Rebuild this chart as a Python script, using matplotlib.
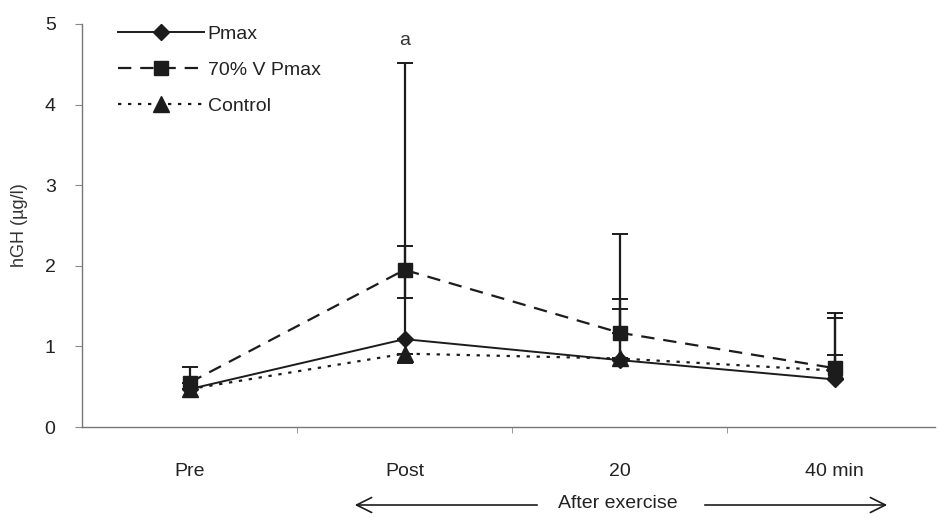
import matplotlib
matplotlib.use("Agg")
import matplotlib.pyplot as plt
from matplotlib.lines import Line2D
from matplotlib.patches import FancyArrowPatch
import numpy as np

plt.rcParams['font.family'] = ['Liberation Sans', 'DejaVu Sans']

# data
times = ["Pre", "Post", "20", "40 min"]
pmax = [0.47, 1.09, 0.83, 0.59]
pmax_up = [0.0, 3.43, 0.76, 0.30]
pmax_lo = [0.0, 0.0, 0.0, 0.0]
vpmax = [0.55, 1.95, 1.17, 0.73]
vpmax_up = [0.20, 0.30, 1.22, 0.69]
vpmax_lo = [0.0, 0.35, 0.0, 0.0]
control = [0.47, 0.91, 0.85, 0.70]
control_up = [0.0, 0.0, 0.61, 0.65]
control_lo = [0.0, 0.11, 0.0, 0.0]

ink = '#1c1c1c'
x = np.arange(len(times))

fig = plt.figure(figsize=(9.39, 5.18), dpi=100)
ax = fig.add_axes([82/939, 1-427/518, (935-82)/939, (427-24)/518])

styles = [
    (pmax, pmax_lo, pmax_up, 'Pmax', '-', 1.4, 'D', 8),
    (vpmax, vpmax_lo, vpmax_up, '70% V Pmax', (0, (6, 4)), 1.6, 's', 10),
    (control, control_lo, control_up, 'Control', (0, (1.5, 3)), 1.6, '^', 11),
]
handles = []
for vals, lo, up, name, ls, lw, mk, ms in styles:
    ax.errorbar(x, vals, yerr=[lo, up], color=ink, lw=lw, ls=ls, marker=mk,
                ms=ms, mfc=ink, mec=ink, ecolor=ink, elinewidth=1.6,
                capsize=6, capthick=1.4)
    handles.append(Line2D([], [], color=ink, lw=lw, ls=ls, marker=mk, ms=ms,
                          mfc=ink, mec=ink, label=name))

ax.text(1, 4.8, 'a', ha='center', va='center', fontsize=14, color='#333333')

ax.set_xlim(-0.5, 3.467)
ax.set_ylim(0, 5)
ax.set_yticks(range(6))
ax.set_xticks(x)
ax.set_xticklabels(times)
ax.set_xticks([0.5, 1.5, 2.5], minor=True)
ax.tick_params(axis='x', which='major', length=0, pad=26, labelsize=14,
               labelcolor='#222222')
ax.tick_params(axis='x', which='minor', length=4, color='#888888', direction='out')
ax.tick_params(axis='y', length=5, color='#888888', pad=14, labelsize=14,
               labelcolor='#222222')
for s in ['top', 'right']:
    ax.spines[s].set_visible(False)
for s in ['left', 'bottom']:
    ax.spines[s].set_color('#777777')
    ax.spines[s].set_linewidth(1.0)

ax.set_ylabel('hGH (µg/l)', fontsize=13, color='#333333', labelpad=12)

leg = ax.legend(handles=handles, loc='upper left', bbox_to_anchor=(0.022, 1.04),
                frameon=False, fontsize=14, handlelength=4.4, labelspacing=0.95,
                handletextpad=0.2)
for t in leg.get_texts():
    t.set_color('#222222')

# "After exercise" arrow below the axis
fig.text(618/939, 1-503/518, 'After exercise', ha='center', va='center',
         fontsize=14, color='#222222')
arrowkw = dict(arrowstyle='->,head_length=0.9,head_width=0.45', color=ink, lw=1.2)
fig.add_artist(FancyArrowPatch((540/939, 1-505/518), (352/939, 1-505/518),
                               transform=fig.transFigure, mutation_scale=12,
                               **arrowkw))
fig.add_artist(FancyArrowPatch((702/939, 1-505/518), (890/939, 1-505/518),
                               transform=fig.transFigure, mutation_scale=12,
                               **arrowkw))

fig.savefig('out.png', dpi=100)
